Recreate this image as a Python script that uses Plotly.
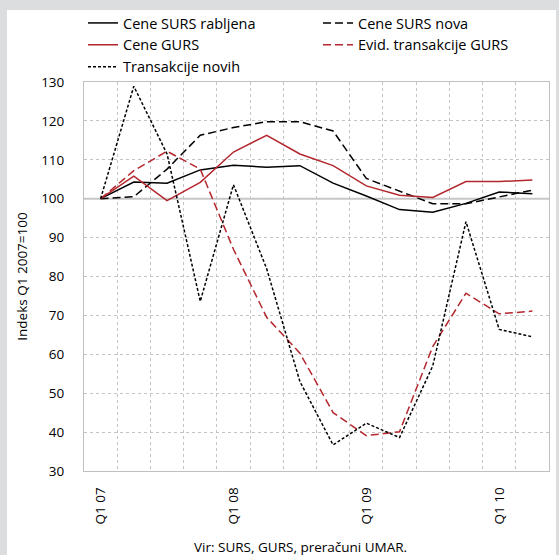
import plotly.graph_objects as go

quarters = ["Q1 07", "Q2 07", "Q3 07", "Q4 07",
            "Q1 08", "Q2 08", "Q3 08", "Q4 08",
            "Q1 09", "Q2 09", "Q3 09", "Q4 09",
            "Q1 10", "Q2 10"]
tick_text = [q if q.startswith("Q1") else "" for q in quarters]

surs_rabljena = [100, 104.3, 104.0, 107.4, 108.6, 108.1, 108.5, 104.0, 100.7, 97.2, 96.5, 98.8, 101.7, 101.3]
surs_nova = [100, 100.5, 107.6, 116.3, 118.3, 119.8, 119.8, 117.4, 105.2, 102.0, 98.7, 98.7, 100.5, 102.2]
gurs = [100, 105.8, 99.5, 104.2, 112.0, 116.3, 111.5, 108.5, 103.3, 100.9, 100.3, 104.4, 104.4, 104.8]
evid_gurs = [100, 107.2, 112.2, 107.6, 87.0, 69.5, 60.3, 45.0, 39.1, 40.1, 62.0, 75.7, 70.4, 71.1]
transakcije_novih = [100, 128.9, 111.5, 73.6, 103.6, 82.0, 53.0, 36.7, 42.3, 38.6, 57.0, 94.1, 66.4, 64.5]

RED = "#b3272d"
GRAY_BG = "#dcdddf"
FONT = "Open Sans"

W, H = 559, 555
L, R, T, B = 84, 10, 82, 84
pw, ph = W - L - R, H - T - B

def px2x(px):
    return (px - L) / pw

def py2y(py):
    return (H - B - py) / ph

fig = go.Figure()
series = [
    ("Cene SURS rabljena", surs_rabljena, "black", "solid"),
    ("Cene SURS nova", surs_nova, "black", "8px,4px"),
    ("Cene GURS", gurs, RED, "solid"),
    ("Evid. transakcije GURS", evid_gurs, RED, "8px,4px"),
    ("Transakcije novih", transakcije_novih, "black", "3px,2px"),
]
for name, vals, col, dash in series:
    fig.add_trace(go.Scatter(x=quarters, y=vals, name=name, mode="lines",
                             line=dict(color=col, width=1.5, dash=dash)))

shapes = [
    dict(type="rect", xref="paper", yref="paper",
         x0=px2x(7), x1=px2x(556), y0=py2y(556), y1=py2y(10),
         fillcolor="white", line=dict(width=0), layer="below"),
    dict(type="line", xref="paper", yref="y", x0=0, x1=1, y0=100, y1=100,
         line=dict(color="#c8c8c8", width=2), layer="below"),
]

fig.update_layout(
    width=W, height=H,
    margin=dict(l=L, r=R, t=T, b=B, autoexpand=False),
    paper_bgcolor=GRAY_BG,
    plot_bgcolor="white",
    font=dict(family=FONT, size=13, color="black"),
    shapes=shapes,
    showlegend=True,
    legend=dict(orientation="h", x=px2x(83), xanchor="left", y=py2y(7), yanchor="top",
                entrywidth=190, entrywidthmode="pixels",
                bgcolor="rgba(0,0,0,0)", font=dict(size=14.5),
                tracegroupgap=0, itemclick=False),
    annotations=[dict(text="Vir: SURS, GURS, preračuni UMAR.", xref="paper", yref="paper",
                      x=px2x(300), y=py2y(547), xanchor="center", yanchor="middle",
                      showarrow=False, font=dict(size=13.5))],
)
fig.update_xaxes(
    type="category", range=[-0.5, 13.5],
    tickmode="array", tickvals=quarters, ticktext=tick_text, tickangle=-90,
    tickson="boundaries", ticks="",
    showgrid=True, gridcolor="#c4c4c4", griddash="dot", gridwidth=1,
    showline=True, linecolor="#c0c0c0", linewidth=1, mirror=True,
    ticklabelstandoff=10, tickfont=dict(size=13.5),
)
fig.update_yaxes(
    range=[30, 130], dtick=10, tick0=30,
    showgrid=True, gridcolor="#c4c4c4", griddash="dot", gridwidth=1,
    showline=True, linecolor="#c0c0c0", linewidth=1, mirror=True,
    zeroline=False, ticks="", ticklabelstandoff=16, tickfont=dict(size=13.5),
    title=dict(text="Indeks Q1 2007=100", font=dict(size=13.5), standoff=10),
)

fig.write_html(
    "out.html",
    config={"displayModeBar": False},
    post_script="document.body.style.margin='0';document.body.style.background='%s';" % GRAY_BG,
)
